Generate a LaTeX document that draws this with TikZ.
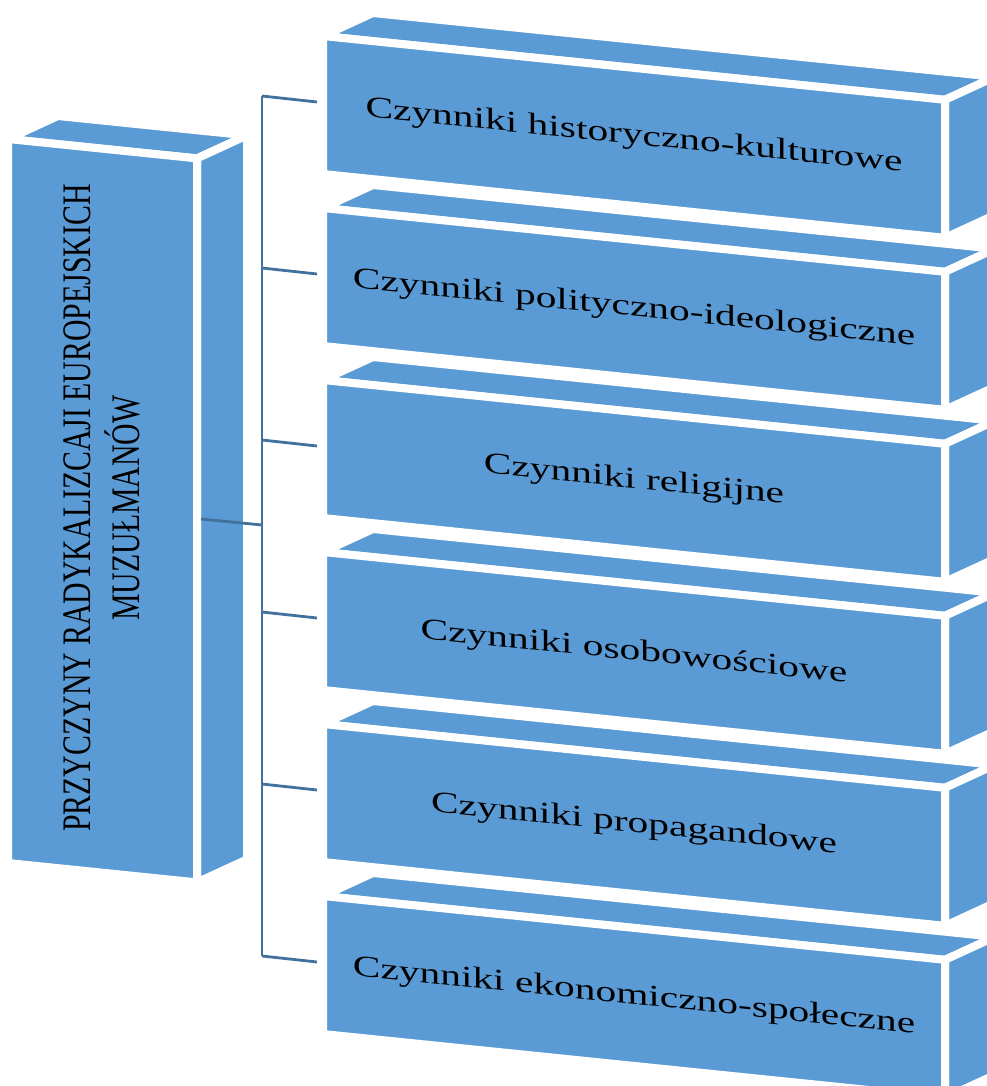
\documentclass[tikz,border=0pt]{standalone}
\usepackage{fontspec}
\setmainfont{Liberation Serif}
\definecolor{boxblue}{RGB}{91,155,213}
\definecolor{linkblue}{RGB}{65,113,156}

% slanted block: front face, top face and side face, separated by white seams
% #1,#2 = front top-left corner, #3 = width, #4 = height
\newcommand{\slab}[4]{%
  \path[face] (#1,#2) -- ++(#3,{0.1026*#3}) -- ++(50,-23) -- ++(-#3,{-0.1026*#3}) -- cycle;
  \path[face] ({#1+#3},{#2+0.1026*#3}) -- ++(50,-23) -- ++(0,#4) -- ++(-50,23) -- cycle;
  \path[face] (#1,#2) -- ++(#3,{0.1026*#3}) -- ++(0,#4) -- ++(-#3,{-0.1026*#3}) -- cycle;
}

\begin{document}
\begin{tikzpicture}[x=1pt,y=-1pt,
  face/.style={fill=boxblue, draw=white, line width=8pt, line join=round},
  link/.style={draw=linkblue, line width=2.8pt},
  factor/.style={font=\fontsize{30}{36}\selectfont, text=black, inner sep=0pt,
                 yslant=-0.1026, xscale=1.38},
  cause/.style={font=\fontsize{29.8}{36}\selectfont, text=black, align=center, inner sep=0pt,
                xscale=1.36, rotate=90}]
\useasboundingbox (0,0) rectangle (987,1086);
\clip (0,0) rectangle (987,1086);

% main block
\slab{8}{139}{189}{724}
\path (102,508) node[cause] (root) {PRZYCZYNY RADYKALIZCAJI EUROPEJSKICH\\MUZUŁMANÓW};

% factor blocks
\foreach \i in {0,...,5} {
  \slab{323}{36+172*\i}{622}{138}
}
\path (634,137)      node[factor] (f1) {Czynniki historyczno-kulturowe};
\path (634,309)      node[factor] (f2) {Czynniki polityczno-ideologiczne};
\path (634,481)      node[factor] (f3) {Czynniki religijne};
\path (634,653)      node[factor] (f4) {Czynniki osobowościowe};
\path (634,825)      node[factor] (f5) {Czynniki propagandowe};
\path (634,997)      node[factor] (f6) {Czynniki ekonomiczno-społeczne};

% connector tree
\coordinate (hub) at (201,519);
\coordinate (bus) at (262,525);
\foreach \i in {1,...,6} {
  \coordinate (j\i) at (262,{96+172*(\i-1)});
  \coordinate (e\i) at (317,{102+172*(\i-1)});
}
\draw[link] (hub) -- (bus);
\draw[link] (j1) -- (j6);
\foreach \i in {1,...,6} {
  \draw[link] (j\i) -- (e\i);
}
\end{tikzpicture}
\end{document}
